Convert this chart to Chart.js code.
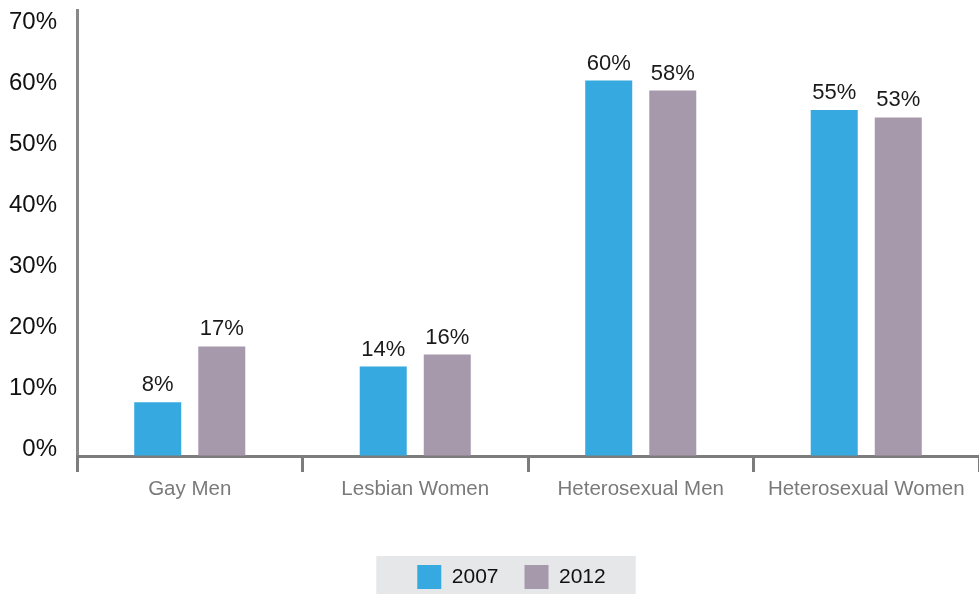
<!DOCTYPE html>
<html>
<head>
<meta charset="utf-8">
<script src="https://cdn.jsdelivr.net/npm/chart.js@4.4.1/dist/chart.umd.min.js"></script>
<style>
  html, body { margin: 0; padding: 0; background: #fff; }
  #wrap { width: 979px; height: 594px; position: relative; }
</style>
</head>
<body>
<div id="wrap"><canvas id="groupsChart"></canvas></div>
<script>
// Chart data
const categories = ['Gay Men', 'Lesbian Women', 'Heterosexual Men', 'Heterosexual Women'];
const seriesNames = ['2007', '2012'];
const values2007 = [8.6, 14.3, 60, 55.3];
const values2012 = [17.5, 16.2, 58.4, 54.1];
const labels2007 = ['8%', '14%', '60%', '55%'];
const labels2012 = ['17%', '16%', '58%', '53%'];
const yTicks = [0, 10, 20, 30, 40, 50, 60, 70];

const blue = '#35a9e0';
const purple = '#a799ac';
const sans = "'Liberation Sans', Arial, sans-serif";

// Value labels above each bar
const barLabels = {
    id: 'barLabels',
    afterDatasetsDraw(chart) {
        const ctx = chart.ctx;
        const texts = [labels2007, labels2012];
        ctx.save();
        ctx.font = "22px " + sans;
        ctx.fillStyle = '#1a1a1a';
        ctx.textAlign = 'center';
        ctx.textBaseline = 'alphabetic';
        chart.data.datasets.forEach((ds, i) => {
            chart.getDatasetMeta(i).data.forEach((bar, j) => {
                ctx.fillText(texts[i][j], bar.x, bar.y - 11);
            });
        });
        ctx.restore();
    }
};

// Move the legend a little and put a grey panel behind it
const legendPanel = {
    id: 'legendPanel',
    afterLayout(chart) {
        const lg = chart.legend;
        lg.left += 22;
        lg.right += 22;
        lg.top += 5;
        lg.bottom += 5;
    },
    beforeDraw(chart) {
        const lg = chart.legend;
        const boxes = lg.legendHitBoxes;
        if (!boxes || !boxes.length) return;
        const first = boxes[0];
        const last = boxes[boxes.length - 1];
        const ctx = chart.ctx;
        ctx.save();
        ctx.fillStyle = '#e6e7e8';
        const x1 = first.left - 41;
        const x2 = last.left + last.width + 30;
        ctx.fillRect(x1, 556, x2 - x1, 594 - 556);
        ctx.restore();
    }
};

const noPad = scale => { scale.paddingTop = 0; scale.paddingBottom = 0; };

new Chart(document.getElementById('groupsChart'), {
    type: 'bar',
    data: {
        labels: categories,
        datasets: [
            { label: seriesNames[0], data: values2007, backgroundColor: blue, yAxisID: 'y' },
            { label: seriesNames[1], data: values2012, backgroundColor: purple, yAxisID: 'y' }
        ]
    },
    options: {
        responsive: true,
        maintainAspectRatio: false,
        animation: false,
        events: [],
        layout: { padding: { top: 10, left: 0, right: 0, bottom: 0 } },
        datasets: {
            bar: { categoryPercentage: 0.568, barPercentage: 0.734 }
        },
        plugins: {
            tooltip: { enabled: false },
            legend: {
                position: 'bottom',
                labels: {
                    boxWidth: 24,
                    boxHeight: 24,
                    padding: 26,
                    color: '#111',
                    font: { family: sans, size: 21 }
                }
            }
        },
        scales: {
            // tick labels for the percentage axis
            yl: {
                axis: 'y',
                position: 'left',
                weight: 1,
                min: -1.14,
                max: 71.96,
                afterBuildTicks(scale) {
                    scale.ticks = yTicks.map(v => ({ value: v }));
                },
                grid: { display: true, drawOnChartArea: false, drawTicks: false },
                border: { display: false },
                ticks: {
                    color: '#111',
                    padding: 20,
                    font: { family: sans, size: 24 },
                    callback: v => v + '%'
                },
                afterFit(scale) { scale.width = 77; noPad(scale); }
            },
            // value axis the bars are drawn on
            y: {
                position: 'left',
                weight: 0,
                min: 0,
                max: 71.27,
                grid: { display: true, drawOnChartArea: false, drawTicks: false },
                border: { display: true, color: '#888', width: 3 },
                ticks: { display: false },
                afterFit(scale) { scale.width = 0; noPad(scale); }
            },
            x: {
                grid: {
                    display: true,
                    drawOnChartArea: false,
                    drawTicks: true,
                    tickLength: 16,
                    color: '#7c7c7c',
                    lineWidth: 3
                },
                border: { display: true, color: '#7c7c7c', width: 3 },
                ticks: {
                    color: '#7a7a7a',
                    padding: 5,
                    maxRotation: 0,
                    font: { family: sans, size: 20.5 }
                },
                afterFit(scale) { scale.height = 78; }
            }
        }
    },
    plugins: [barLabels, legendPanel]
});
</script>
</body>
</html>
